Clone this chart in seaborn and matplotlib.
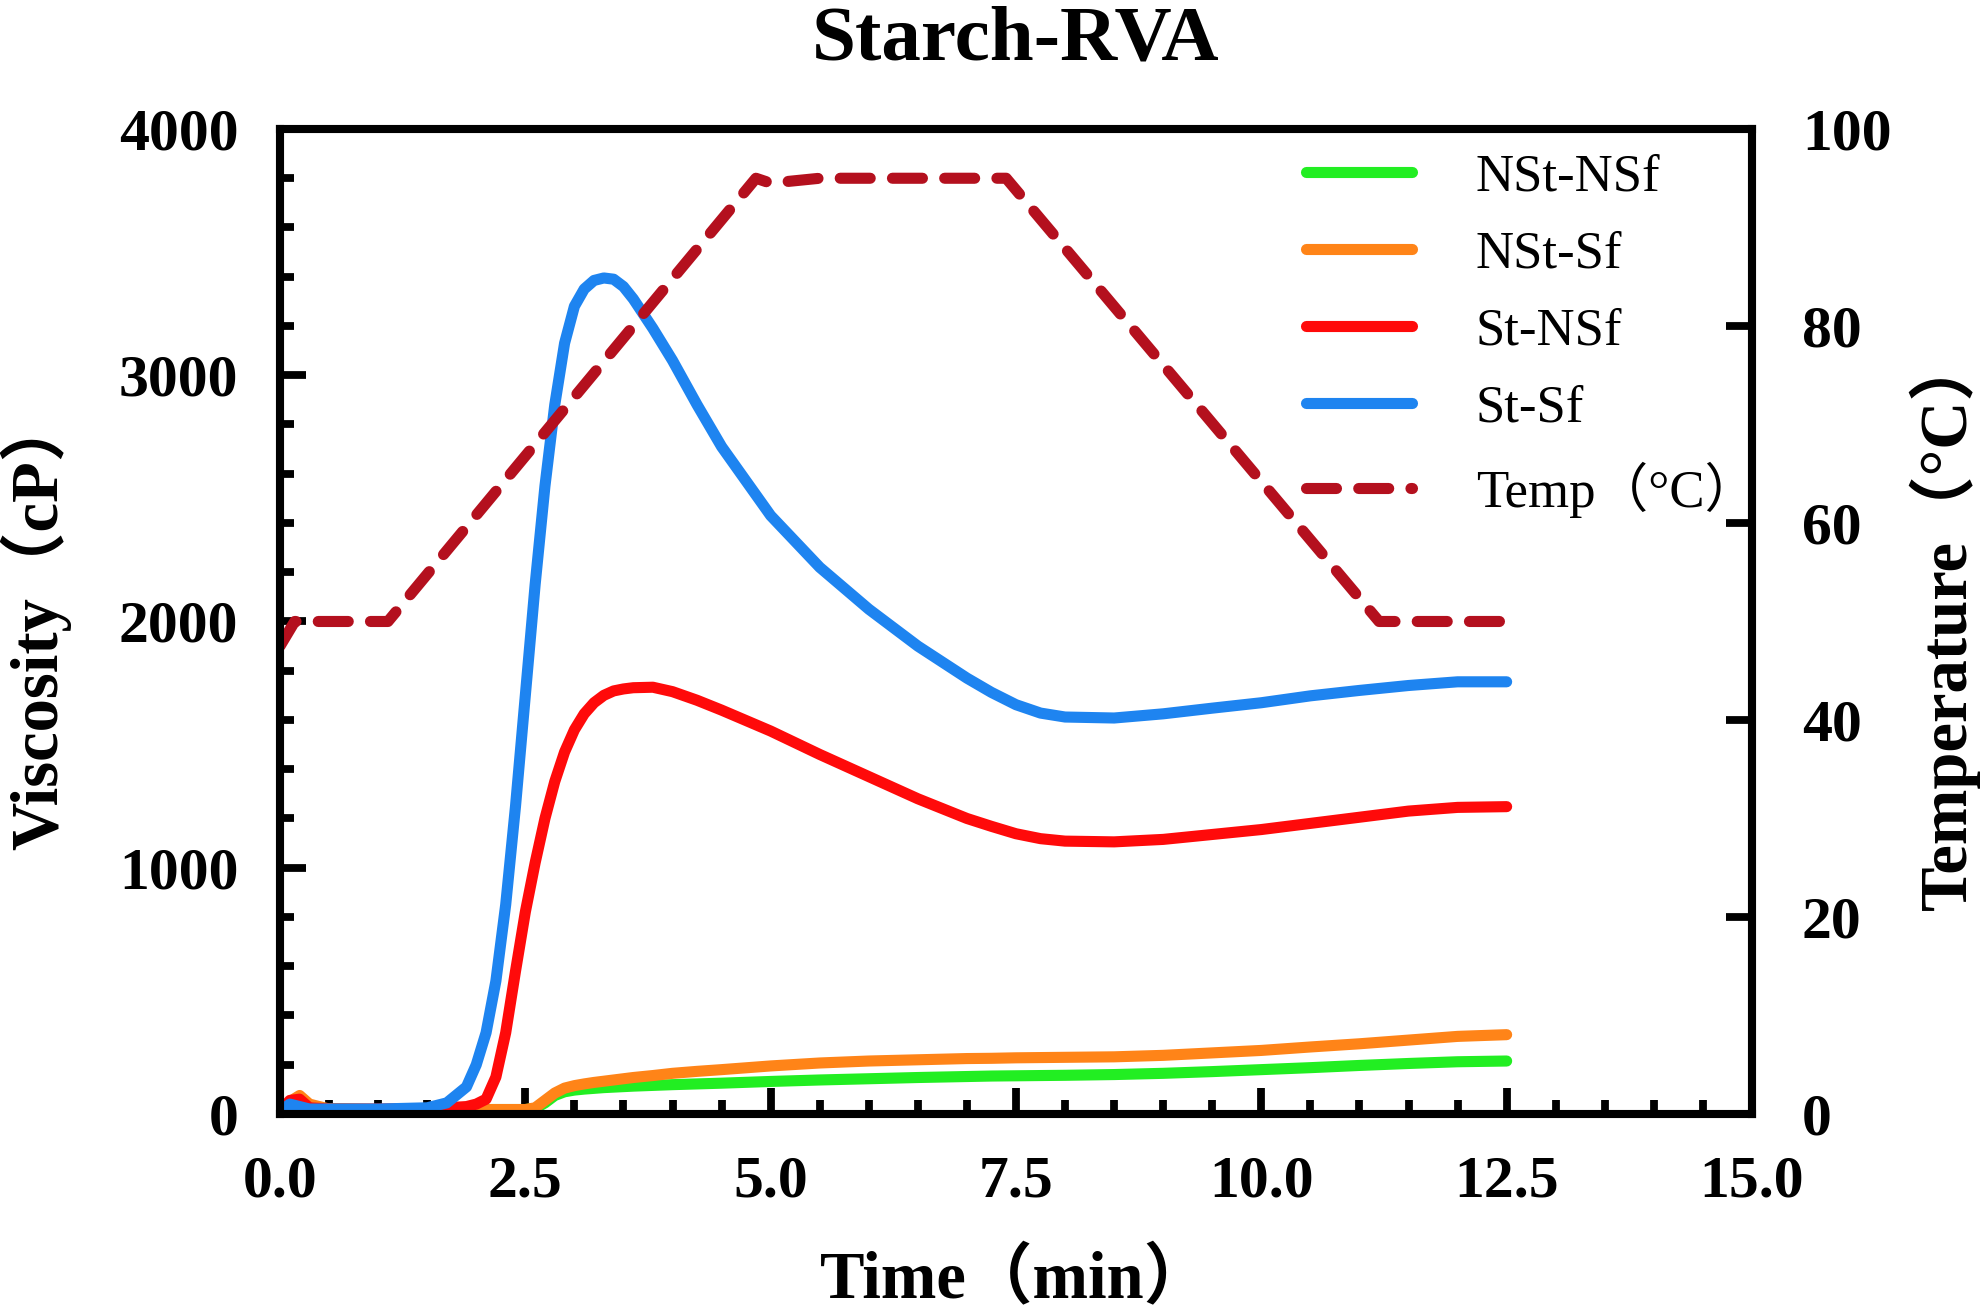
import numpy as np
import pandas as pd
import matplotlib
matplotlib.use("Agg")
import matplotlib.pyplot as plt
from matplotlib.ticker import MultipleLocator
from matplotlib.lines import Line2D
import seaborn as sns

# ---------------- data ----------------
time_min = [0, 0.1, 0.2, 0.3, 0.5, 1.0, 1.5, 1.7, 1.9, 2.0, 2.1, 2.2, 2.3, 2.4, 2.5,
            2.6, 2.7, 2.8, 2.9, 3.0, 3.1, 3.2, 3.3, 3.4, 3.5, 3.6, 3.8, 4.0, 4.25, 4.5,
            5.0, 5.5, 6.0, 6.5, 7.0, 7.25, 7.5, 7.75, 8.0, 8.5, 9.0, 9.5, 10.0, 10.5,
            11.0, 11.5, 12.0, 12.5]

nst_nsf = [0, 50, 70, 30, 20, 18, 18, 18, 18, 18, 18, 18, 18, 18, 18,
           22, 45, 75, 90, 97, 101, 104, 107, 109, 111, 113, 116, 119, 122, 125,
           132, 138, 143, 148, 152, 154, 155, 156, 157, 160, 165, 172, 180, 188,
           197, 205, 212, 215]

nst_sf = [0, 50, 75, 40, 20, 18, 18, 18, 18, 18, 18, 18, 18, 18, 18,
          25, 55, 85, 105, 115, 122, 128, 133, 138, 143, 148, 156, 165, 173, 180,
          195, 207, 215, 220, 225, 226, 228, 229, 230, 232, 238, 248, 258, 272,
          285, 300, 315, 322]

st_nsf = [10, 55, 60, 25, 20, 20, 22, 25, 30, 40, 60, 150, 330, 580, 820,
          1020, 1200, 1350, 1470, 1560, 1625, 1670, 1700, 1718, 1726, 1731, 1733, 1715, 1680, 1640,
          1555, 1460, 1370, 1280, 1200, 1168, 1138, 1118, 1108, 1105, 1115, 1135, 1155, 1180,
          1205, 1230, 1245, 1248]

st_sf = [10, 40, 30, 20, 20, 20, 25, 45, 110, 200, 330, 540, 850, 1250, 1700,
         2150, 2550, 2880, 3130, 3280, 3350, 3385, 3395, 3390, 3360, 3310, 3190, 3060, 2880, 2710,
         2430, 2220, 2050, 1900, 1770, 1712, 1662, 1628, 1612, 1608, 1625, 1648, 1670, 1698,
         1720, 1740, 1755, 1755]

temp_time = [0, 0.15, 1.1, 4.85, 5.0, 5.5, 7.4, 11.2, 12.5]
temp_c = [47.5, 50, 50, 95, 94.5, 95, 95, 50, 50]

series_names = ["NSt-NSf", "NSt-Sf", "St-NSf", "St-Sf"]
series_values = [nst_nsf, nst_sf, st_nsf, st_sf]
series_colors = ["#22EE22", "#FF8418", "#FF0A0A", "#1E84F0"]
temp_label = "Temp（°C）"
temp_color = "#B4101E"

x_ticks = [0.0, 2.5, 5.0, 7.5, 10.0, 12.5, 15.0]
y_ticks = [0, 1000, 2000, 3000, 4000]
t_ticks = [0, 20, 40, 60, 80, 100]

# ---------------- style ----------------
sns.set_style("ticks")
serif = ["Liberation Serif", "Noto Sans CJK SC", "DejaVu Sans"]
plt.rcParams["font.family"] = serif
for k in ["text.color", "axes.labelcolor", "xtick.color", "ytick.color", "axes.edgecolor"]:
    plt.rcParams[k] = "black"
plt.rcParams["axes.linewidth"] = 5.8

LW = 8.0
DASH = (0, (2.7, 2.0))

fig = plt.figure(figsize=(19.83, 13.11), dpi=100)
ax = fig.add_axes([0.1412, 0.1503, 0.8835 - 0.1412, 0.9016 - 0.1503])
ax2 = ax.twinx()

df = pd.DataFrame({"time": time_min})
for name, vals in zip(series_names, series_values):
    df[name] = vals

for name, col in zip(series_names, series_colors):
    sns.lineplot(data=df, x="time", y=name, ax=ax, color=col, linewidth=LW,
                 estimator=None, sort=False, legend=False)
for ln in ax.get_lines():
    ln.set_linewidth(LW)
    ln.set_solid_capstyle("round")
    ln.set_solid_joinstyle("round")

tdf = pd.DataFrame({"time": temp_time, "temp": temp_c})
sns.lineplot(data=tdf, x="time", y="temp", ax=ax2, color=temp_color, linewidth=LW,
             estimator=None, sort=False, legend=False)
tline = ax2.get_lines()[0]
tline.set_linewidth(LW)
tline.set_linestyle(DASH)
tline.set_dash_capstyle("round")
tline.set_dash_joinstyle("round")

ax.set_xlim(0, 15)
ax.set_ylim(0, 4000)
ax2.set_ylim(0, 100)

ax.set_xticks(x_ticks)
ax.set_xticklabels([f"{v:.1f}" for v in x_ticks])
ax.set_yticks(y_ticks)
ax.set_yticklabels([str(v) for v in y_ticks])
ax2.set_yticks(t_ticks)
ax2.set_yticklabels([str(v) for v in t_ticks])
ax.xaxis.set_minor_locator(MultipleLocator(0.5))
ax.yaxis.set_minor_locator(MultipleLocator(200))

for lab in ax.get_xticklabels() + ax.get_yticklabels() + ax2.get_yticklabels():
    lab.set_fontfamily(["Liberation Serif"])
    lab.set_fontweight("bold")
    lab.set_fontsize(43)
    lab.set_color("black")

ax.tick_params(axis="x", which="major", direction="in", length=19, width=5.6, pad=30,
               top=False, bottom=True, colors="black")
ax.tick_params(axis="x", which="minor", direction="in", length=10, width=5.6,
               top=False, bottom=True, colors="black")
ax.tick_params(axis="y", which="major", direction="in", length=19, width=5.6, pad=30,
               left=True, right=False, colors="black")
ax.tick_params(axis="y", which="minor", direction="in", length=10, width=5.6,
               left=True, right=False, colors="black")
ax2.tick_params(axis="y", which="major", direction="in", length=19, width=5.6, pad=36,
                right=True, left=False, colors="black")
ax2.tick_params(axis="y", which="minor", right=False, left=False)

for a in (ax, ax2):
    for sp in a.spines.values():
        sp.set_visible(True)
        sp.set_linewidth(5.8)
        sp.set_color("black")

lab_font = dict(family=serif, weight="bold", size=48, color="black")
ax.set_xlabel("Time（min）", fontdict=lab_font, labelpad=28)
ax.set_ylabel("Viscosity（cP）", fontdict=lab_font, labelpad=34)
ax2.set_ylabel("Temperature（°C）", fontdict=lab_font, labelpad=12)
ax.set_title("Starch-RVA", fontdict=dict(family=serif, weight="bold", size=57, color="black"),
             pad=50)

handles = [Line2D([0], [0], color=c, lw=LW, solid_capstyle="round") for c in series_colors]
handles.append(Line2D([0], [0], color=temp_color, lw=LW, linestyle=DASH,
                      dash_capstyle="round"))
labels = series_names + [temp_label]
leg = ax.legend(handles, labels, loc="upper left", bbox_to_anchor=(0.697, 0.975),
                frameon=False, borderpad=0, borderaxespad=0, handlelength=2.0,
                handletextpad=1.22, labelspacing=0.55,
                prop=dict(family=serif, size=38))
for t in leg.get_texts():
    t.set_color("black")

fig.savefig("out.png", dpi=100)
